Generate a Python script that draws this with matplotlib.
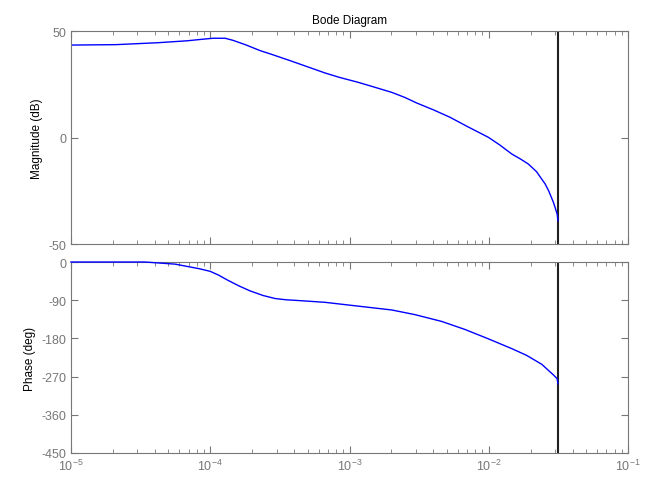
import matplotlib
matplotlib.use("Agg")
import matplotlib.pyplot as plt
from matplotlib.ticker import LogLocator, NullFormatter, FixedLocator

plt.rcParams['font.family'] = ['Liberation Sans', 'DejaVu Sans']
plt.rcParams['mathtext.fontset'] = 'custom'
plt.rcParams['mathtext.rm'] = 'Liberation Sans'
plt.rcParams['axes.unicode_minus'] = False

# magnitude readings (rad/s, dB)
mag_w = [1e-5, 2.1e-5, 4.2e-5, 6.8e-5, 9.0e-5, 1.05e-4, 1.28e-4, 1.46e-4,
         1.8e-4, 2.28e-4, 2.8e-4, 3.74e-4, 4.8e-4, 6.67e-4, 8.5e-4,
         1.156e-3, 1.5e-3, 2.01e-3, 2.5e-3, 3.04e-3, 4.0e-3, 5.27e-3,
         7.0e-3, 9.93e-3, 1.2e-2, 1.46e-2, 1.7e-2, 1.92e-2, 2.2e-2,
         2.54e-2, 2.7e-2, 2.91e-2, 3.0e-2, 3.1e-2, 0.0314]
mag_db = [43.4, 43.6, 44.5, 45.4, 46.2, 46.6, 46.6, 45.6,
          43.5, 40.8, 38.9, 36.1, 33.6, 30.3, 28.2,
          25.9, 23.7, 21.2, 18.8, 16.2, 13.0, 9.5,
          5.2, 0.1, -3.5, -7.7, -10.2, -12.4, -16.0,
          -21.8, -25.2, -30.4, -33.0, -36.0, -39.0]

# phase readings (rad/s, deg)
ph_w = [1e-5, 3.4e-5, 5.6e-5, 8.4e-5, 1.0e-4, 1.15e-4, 1.32e-4, 1.6e-4,
        1.93e-4, 2.4e-4, 2.92e-4, 3.5e-4, 4.41e-4, 6.67e-4, 1.156e-3,
        2.01e-3, 2.95e-3, 4.59e-3, 6.75e-3, 9.93e-3, 1.46e-2, 1.87e-2,
        2.40e-2, 2.91e-2, 3.1e-2, 0.0314]
ph_deg = [0, 0, -5, -16, -22, -31, -42, -56,
          -68, -79, -86, -89, -91, -95, -104,
          -113, -124, -140, -159, -181, -204, -220,
          -241, -266, -275, -287]

nyquist = 0.0314
mag_ticks = [-50, 0, 50]
ph_ticks = [0, -90, -180, -270, -360, -450]

grey = '#777777'

fig = plt.figure(figsize=(6.5, 4.85), dpi=100)
ax1 = fig.add_axes([0.1092, 0.4948, 0.857, 0.4392])
ax2 = fig.add_axes([0.1092, 0.0640, 0.857, 0.3937])

for ax in (ax1, ax2):
    ax.set_xscale('log')
    ax.set_xlim(1e-5, 1e-1)
    ax.xaxis.set_major_locator(LogLocator(base=10))
    ax.xaxis.set_minor_locator(LogLocator(base=10, subs=range(2, 10)))
    ax.xaxis.set_minor_formatter(NullFormatter())
    ax.tick_params(which='both', direction='in', top=True, right=True,
                   colors=grey, labelsize=9)
    ax.tick_params(which='major', length=5)
    ax.tick_params(which='minor', length=3)
    for s in ax.spines.values():
        s.set_color(grey)
    ax.axvline(nyquist, color='#202020', lw=1.5)

ax1.plot(mag_w, mag_db, color='#0000ff', lw=1)
ax1.set_ylim(-50, 50)
ax1.yaxis.set_major_locator(FixedLocator(mag_ticks))
ax1.set_xticklabels([])
ax1.set_ylabel('Magnitude (dB)', fontsize=8.5)
ax1.set_title('Bode Diagram', fontsize=8.5, pad=6)

ax2.plot(ph_w, ph_deg, color='#0000ff', lw=1, clip_on=False, zorder=5)
ax2.set_ylim(-450, 0)
ax2.yaxis.set_major_locator(FixedLocator(ph_ticks))
ax2.set_ylabel('Phase (deg)', fontsize=8.5)

fig.savefig('out.png', dpi=100)
